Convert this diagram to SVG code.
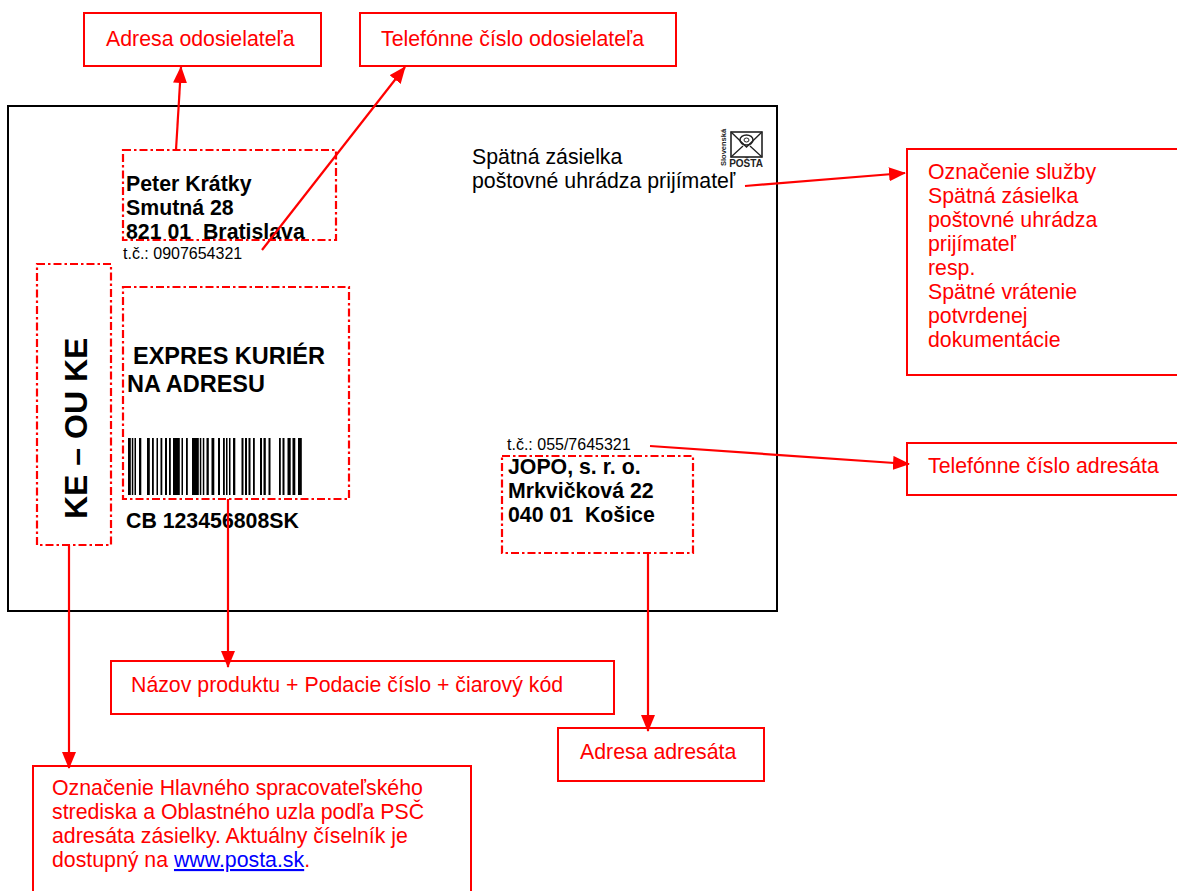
<svg xmlns="http://www.w3.org/2000/svg" width="1177" height="891" viewBox="0 0 1177 891">
<style>
.lbl{fill:none;stroke:#ff0000;stroke-width:2}
.dd{fill:none;stroke:#ff0000;stroke-width:2.2;stroke-dasharray:8 3 2.5 3}
.rt{font-family:"Liberation Sans",Arial,sans-serif;font-size:21.3px;fill:#ff0000}
.bt{font-family:"Liberation Sans",Arial,sans-serif;font-size:21.3px;font-weight:bold;fill:#000}
.nt{font-family:"Liberation Sans",Arial,sans-serif;font-size:21.3px;fill:#000}
.st{font-family:"Liberation Sans",Arial,sans-serif;font-size:16px;fill:#000}
.con{stroke:#ff0000;stroke-width:2.2;fill:none;marker-end:url(#ah)}
</style>
<defs>
<marker id="ah" markerUnits="userSpaceOnUse" markerWidth="17" markerHeight="14" refX="16" refY="7" orient="auto">
<path d="M0,0 L17,7 L0,14 z" fill="#ff0000"/>
</marker>
</defs>
<rect width="1177" height="891" fill="#fff"/>

<g id="envelope">
<rect x="8" y="106" width="769" height="505" fill="none" stroke="#000" stroke-width="2"/>
</g>

<g id="logo">
<rect x="731" y="132" width="31" height="25" fill="none" stroke="#222" stroke-width="1.6"/>
<path d="M731,132 L746.5,147 L762,132 M731,157 L743,146 M762,157 L750,146" fill="none" stroke="#222" stroke-width="1.3"/>
<ellipse cx="746.5" cy="140" rx="6.5" ry="5" fill="none" stroke="#222" stroke-width="1.5"/>
<ellipse cx="746.5" cy="140" rx="2.5" ry="2" fill="none" stroke="#222" stroke-width="1"/>
<text x="746" y="167" text-anchor="middle" font-family="'Liberation Sans',Arial,sans-serif" font-size="10" font-weight="bold" fill="#222">POŠTA</text>
<text transform="translate(726,166) rotate(-90)" font-family="'Liberation Sans',Arial,sans-serif" font-size="7.5" font-weight="bold" fill="#222">Slovenská</text>
</g>

<g id="service-text">
<text class="nt" x="472" y="164">Spätná zásielka</text>
<text class="nt" x="472" y="188">poštovné uhrádza prijímateľ</text>
</g>

<g id="sender">
<rect class="dd" x="123" y="150" width="213" height="90"/>
<text class="bt" x="126" y="191">Peter Krátky</text>
<text class="bt" x="126" y="215">Smutná 28</text>
<text class="bt" x="126" y="239" xml:space="preserve">821 01  Bratislava</text>
<text class="st" x="123" y="259">t.č.: 0907654321</text>
</g>

<g id="routing">
<rect class="dd" x="37" y="264" width="74" height="281"/>
<text transform="translate(87,519) rotate(-90)" font-family="'Liberation Sans',Arial,sans-serif" font-size="32" font-weight="bold" fill="#000">KE – OU KE</text>
</g>

<g id="product">
<rect class="dd" x="123" y="287" width="226" height="212"/>
<text x="133" y="364" font-family="'Liberation Sans',Arial,sans-serif" font-size="23.5" font-weight="bold" fill="#000">EXPRES KURIÉR</text>
<text x="127" y="392" font-family="'Liberation Sans',Arial,sans-serif" font-size="23.5" font-weight="bold" fill="#000">NA ADRESU</text>
<g id="barcode" fill="#000">
<rect x="128" y="438" width="2.8" height="57"/><rect x="131.8" y="438" width="1.5" height="57"/><rect x="134.5" y="438" width="1.5" height="57"/><rect x="139" y="438" width="2.3" height="57"/><rect x="147" y="438" width="2.8" height="57"/><rect x="152" y="438" width="1.8" height="57"/><rect x="156.5" y="438" width="1.5" height="57"/><rect x="160.5" y="438" width="1.8" height="57"/><rect x="165" y="438" width="2" height="57"/><rect x="169" y="438" width="1.8" height="57"/><rect x="173" y="438" width="6.8" height="57"/><rect x="181.5" y="438" width="1.5" height="57"/><rect x="186" y="438" width="1.8" height="57"/><rect x="192" y="438" width="6.8" height="57"/><rect x="199.8" y="438" width="1.5" height="57"/><rect x="202.8" y="438" width="1.5" height="57"/><rect x="206.5" y="438" width="2.3" height="57"/><rect x="211.5" y="438" width="2.8" height="57"/><rect x="218" y="438" width="2" height="57"/><rect x="223" y="438" width="1.8" height="57"/><rect x="226" y="438" width="1.5" height="57"/><rect x="229" y="438" width="1.5" height="57"/><rect x="233" y="438" width="2.3" height="57"/><rect x="241.5" y="438" width="2" height="57"/><rect x="245" y="438" width="2" height="57"/><rect x="248.5" y="438" width="2" height="57"/><rect x="253" y="438" width="1.8" height="57"/><rect x="260" y="438" width="2" height="57"/><rect x="263.5" y="438" width="2.3" height="57"/><rect x="268.5" y="438" width="2" height="57"/><rect x="279" y="438" width="1.8" height="57"/><rect x="282.5" y="438" width="2" height="57"/><rect x="287.5" y="438" width="3.2" height="57"/><rect x="292.5" y="438" width="2.8" height="57"/><rect x="298" y="438" width="3.8" height="57"/>
</g>
<text class="bt" x="126" y="528">CB 123456808SK</text>
</g>

<g id="recipient">
<text class="st" x="507" y="450">t.č.: 055/7645321</text>
<rect class="dd" x="502" y="456" width="191" height="97"/>
<text class="bt" x="508" y="474">JOPO, s. r. o.</text>
<text class="bt" x="508" y="498">Mrkvičková 22</text>
<text class="bt" x="508" y="522" xml:space="preserve">040 01  Košice</text>
</g>

<g id="label-sender-address">
<rect class="lbl" x="84" y="13" width="237" height="53"/>
<text class="rt" x="106" y="46">Adresa odosielateľa</text>
</g>

<g id="label-sender-phone">
<rect class="lbl" x="360" y="13" width="316" height="53"/>
<text class="rt" x="381" y="46">Telefónne číslo odosielateľa</text>
</g>

<g id="label-service">
<rect class="lbl" x="907" y="149" width="300" height="226"/>
<text class="rt" x="928" y="179">Označenie služby</text>
<text class="rt" x="928" y="203">Spätná zásielka</text>
<text class="rt" x="928" y="227">poštovné uhrádza</text>
<text class="rt" x="928" y="251">prijímateľ</text>
<text class="rt" x="928" y="275">resp.</text>
<text class="rt" x="928" y="299">Spätné vrátenie</text>
<text class="rt" x="928" y="323">potvrdenej</text>
<text class="rt" x="928" y="347">dokumentácie</text>
</g>

<g id="label-recipient-phone">
<rect class="lbl" x="907" y="443" width="300" height="52"/>
<text class="rt" x="928" y="473">Telefónne číslo adresáta</text>
</g>

<g id="label-product">
<rect class="lbl" x="111" y="661" width="503" height="53"/>
<text class="rt" x="131" y="692">Názov produktu + Podacie číslo + čiarový kód</text>
</g>

<g id="label-recipient-address">
<rect class="lbl" x="558" y="728" width="206" height="53"/>
<text class="rt" x="580" y="759">Adresa adresáta</text>
</g>

<g id="label-routing">
<rect class="lbl" x="33" y="766" width="438" height="150"/>
<text class="rt" x="52" y="795">Označenie Hlavného spracovateľského</text>
<text class="rt" x="52" y="819">strediska a Oblastného uzla podľa PSČ</text>
<text class="rt" x="52" y="843">adresáta zásielky. Aktuálny číselník je</text>
<text class="rt" x="52" y="867">dostupný na <tspan fill="#0000ff" text-decoration="underline">www.posta.sk</tspan>.</text>
</g>

<g id="connectors">
<line class="con" x1="176" y1="150" x2="181" y2="67"/>
<line class="con" x1="262" y1="250" x2="405" y2="67"/>
<line class="con" x1="745" y1="186" x2="905" y2="173"/>
<line class="con" x1="650" y1="446" x2="909" y2="464"/>
<line class="con" x1="228" y1="499" x2="228" y2="667"/>
<line class="con" x1="648" y1="553" x2="648" y2="731"/>
<line class="con" x1="69" y1="545" x2="69" y2="768"/>
</g>
</svg>
